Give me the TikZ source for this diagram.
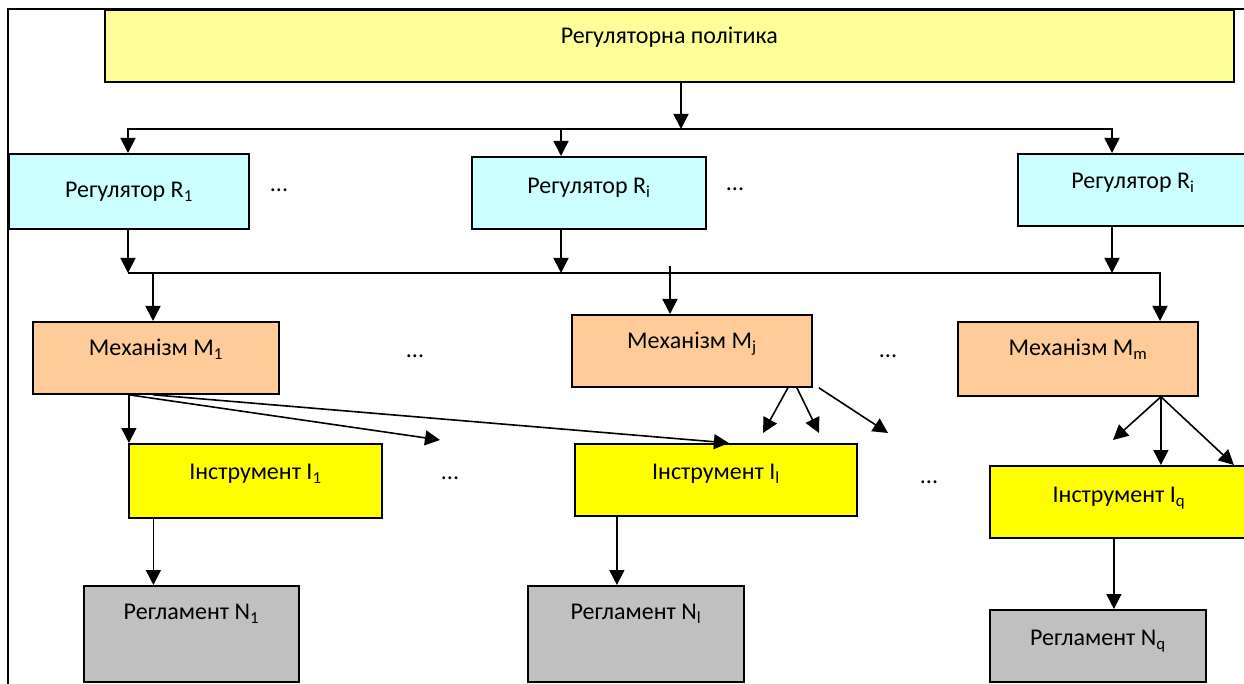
\documentclass[tikz,border=0pt]{standalone}
\usepackage{fontspec}
\setmainfont{Carlito}
\usetikzlibrary{arrows.meta}

\definecolor{polityka}{HTML}{FFFF99}
\definecolor{rehuliator}{HTML}{CCFFFF}
\definecolor{mekhanizm}{HTML}{FFCC99}
\definecolor{instrument}{HTML}{FFFF00}
\definecolor{rehlament}{HTML}{C0C0C0}

\tikzset{
  blok/.style={draw, line width=1.8pt, anchor=north west, inner sep=0pt,
    font=\fontsize{24}{28}\selectfont},
  strilka/.style={line width=1.6pt, -{Triangle[length=15pt,width=15pt]}},
  liniia/.style={line width=1.6pt},
  krapky/.style={inner sep=0pt, font=\fontsize{24}{28}\selectfont}
}

\begin{document}
\begin{tikzpicture}[x=1pt,y=-1pt]
\useasboundingbox (0,0) rectangle (1244,684);
\clip (0,0) rectangle (1244,684);
% frame
\draw[liniia] (8,700) -- (8,9) -- (1260,9);

% policy
\node[blok, fill=polityka, minimum width=1129pt, text height=34pt, text depth=38pt] (pol) at (104,9) {Регуляторна політика};

% regulators
\node[blok, fill=rehuliator, minimum width=240pt, text height=44pt, text depth=31pt] (R1) at (8,153) {Регулятор R\textsubscript{1}};
\node[blok, fill=rehuliator, minimum width=234pt, text height=37pt, text depth=35pt] (R2) at (471,156) {Регулятор R\textsubscript{i}};
\node[blok, fill=rehuliator, minimum width=230pt, text height=35pt, text depth=37pt] (R3) at (1017,153) {Регулятор R\textsubscript{i}};
\node[krapky] (dR1) at (279,190) {...};
\node[krapky] (dR2) at (735,189) {...};

% mechanisms
\node[blok, fill=mekhanizm, minimum width=246pt, text height=34pt, text depth=38pt] (M1) at (32,321) {Механізм M\textsubscript{1}};
\node[blok, fill=mekhanizm, minimum width=240pt, text height=34pt, text depth=38pt] (M2) at (571,314) {Механізм M\textsubscript{j}};
\node[blok, fill=mekhanizm, minimum width=240pt, text height=34pt, text depth=40pt] (M3) at (957,321) {Механізм M\textsubscript{m}};
\node[krapky] (dM1) at (415,356) {...};
\node[krapky] (dM2) at (888,356) {...};

% instruments
\node[blok, fill=instrument, minimum width=253pt, text height=36pt, text depth=38pt] (I1) at (128,443) {Інструмент I\textsubscript{1}};
\node[blok, fill=instrument, minimum width=282pt, text height=36pt, text depth=36pt] (I2) at (574,443) {Інструмент I\textsubscript{l}};
\node[blok, fill=instrument, minimum width=258pt, text height=37pt, text depth=35pt] (I3) at (989,465) {Інструмент I\textsubscript{q}};
\node[krapky] (dI1) at (450,478) {...};
\node[krapky] (dI2) at (929,482) {...};

% regulations
\node[blok, fill=rehlament, minimum width=215pt, text height=34pt, text depth=62pt] (N1) at (83,585) {Регламент N\textsubscript{1}};
\node[blok, fill=rehlament, minimum width=216pt, text height=34pt, text depth=62pt] (N2) at (527,585) {Регламент N\textsubscript{l}};
\node[blok, fill=rehlament, minimum width=216pt, text height=36pt, text depth=36pt] (N3) at (989,609) {Регламент N\textsubscript{q}};

% policy -> regulators
\coordinate (v0) at (681,129);
\coordinate (v1) at (128,129);
\coordinate (v2) at (561,129);
\coordinate (v3) at (1112,129);
\draw[strilka] (pol.south -| v0) -- (v0);
\draw[strilka] (v2) -- (v1) -- (v1 |- R1.north);
\draw[strilka] (v2) -- (v3) -- (v3 |- R3.north);
\draw[strilka] (v2) -- (v2 |- R2.north);

% regulators -> mechanisms
\coordinate (h1) at (128,273);
\coordinate (h2) at (561,273);
\coordinate (h3) at (1112,273);
\coordinate (h4) at (1160,273);
\coordinate (g1) at (153,273);
\coordinate (g2) at (670,266);
\draw[strilka] (h1 |- R1.south) -- (h1);
\draw[strilka] (h2 |- R2.south) -- (h2);
\draw[strilka] (h3 |- R3.south) -- (h3);
\draw[strilka] (h1) -- (h4) -- (h4 |- M3.north);
\draw[strilka] (g1) -- (g1 |- M1.north);
\draw[strilka] (g2) -- (g2 |- M2.north);

% mechanisms -> instruments
\coordinate (f1) at (440,440);
\coordinate (f2) at (763,433);
\coordinate (f3) at (819,433);
\coordinate (f4) at (888,433);
\coordinate (f5) at (1113,440);
\draw[strilka] ([xshift=-27pt]M1.south) -- ([xshift=-27pt]M1.south |- I1.north);
\draw[strilka] ([xshift=-27pt]M1.south) -- (f1);
\draw[strilka] ([xshift=-3pt]M1.south) -- ([xshift=13pt]I2.north);
\draw[strilka] ([xshift=96pt]M2.south) -- (f2);
\draw[strilka] ([xshift=105pt]M2.south) -- (f3);
\draw[strilka] ([xshift=127pt]M2.south) -- (f4);
\draw[strilka] ([xshift=83pt]M3.south) -- (f5);
\draw[strilka] ([xshift=83pt]M3.south) -- ([xshift=42pt]I3.north);
\draw[strilka] ([xshift=83pt]M3.south) -- ([xshift=115pt]I3.north);

% instruments -> regulations
\draw[strilka] ([xshift=-102pt]I1.south) -- ([xshift=-102pt]I1.south |- N1.north);
\draw[strilka] ([xshift=-99pt]I2.south) -- ([xshift=-99pt]I2.south |- N2.north);
\draw[strilka] ([xshift=-5pt]I3.south) -- ([xshift=-5pt]I3.south |- N3.north);
\end{tikzpicture}
\end{document}
